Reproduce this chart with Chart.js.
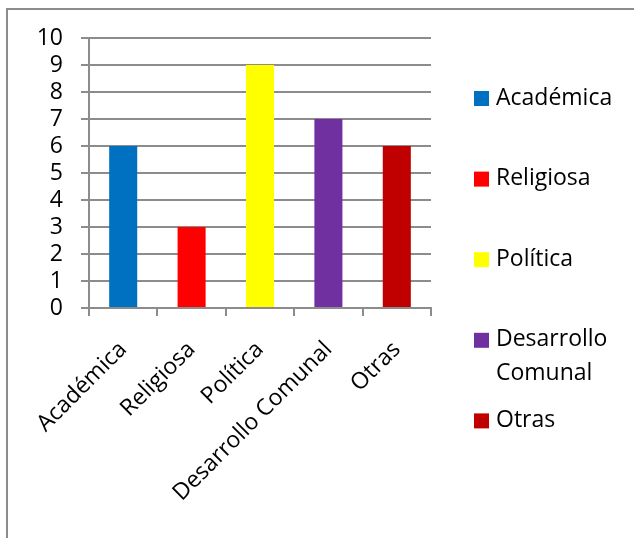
<!DOCTYPE html>
<html>
<head>
<meta charset="utf-8">
<script src="https://cdn.jsdelivr.net/npm/chart.js@4"></script>
<style>
  body { margin: 0; background: #fff; }
  canvas { display: block; }
</style>
</head>
<body>
<canvas id="grafico" width="634" height="538"></canvas>
<script>
const categorias = ['Académica', 'Religiosa', 'Política', 'Desarrollo Comunal', 'Otras'];
const valores = [6, 3, 9, 7, 6];
const colores = ['#0070C0', '#FF0000', '#FFFF00', '#7030A0', '#C00000'];
const leyenda = [['Académica'], ['Religiosa'], ['Política'], ['Desarrollo', 'Comunal'], ['Otras']];
const ticksY = [0, 1, 2, 3, 4, 5, 6, 7, 8, 9, 10];

const fuente = { family: "'Open Sans', sans-serif", size: 23 };
const gris = '#8c8c8c';

// borde del grafico (arriba e izquierda) y leyenda a la derecha
const extras = {
    id: 'extras',
    afterDraw(chart) {
        const c = chart.ctx;
        const area = chart.chartArea;
        c.save();
        c.strokeStyle = gris;
        c.lineWidth = 2;
        c.beginPath();
        c.moveTo(7, chart.height);
        c.lineTo(7, 9);
        c.lineTo(chart.width, 9);
        c.stroke();

        c.font = fuente.size + 'px ' + fuente.family;
        c.textBaseline = 'middle';
        c.textAlign = 'left';
        leyenda.forEach((lineas, i) => {
            const y = area.top + 60 + i * 80.6;
            c.fillStyle = colores[i];
            c.fillRect(area.right + 43, y - 7, 15, 15);
            c.fillStyle = '#000';
            lineas.forEach((t, j) => {
                c.fillText(t, area.right + 65, y + j * 34);
            });
        });
        c.restore();
    }
};

new Chart(document.querySelector('#grafico'), {
    type: 'bar',
    data: {
        labels: categorias,
        datasets: [{
            data: valores,
            backgroundColor: colores,
            categoryPercentage: 1,
            barPercentage: 0.41
        }]
    },
    options: {
        responsive: false,
        animation: false,
        layout: { padding: { top: 38, right: 203, left: 0, bottom: 0 } },
        plugins: { legend: { display: false }, tooltip: { enabled: false } },
        scales: {
            x: {
                grid: { drawOnChartArea: false, drawTicks: true, tickLength: 8, color: gris, lineWidth: 2 },
                border: { color: gris, width: 2 },
                ticks: { font: fuente, color: '#000', maxRotation: 45, minRotation: 45, padding: 20 },
                afterFit: (s) => { s.height = 230; }
            },
            y: {
                min: 0,
                max: 10,
                afterBuildTicks: (s) => { s.ticks = ticksY.map(v => ({ value: v })); },
                grid: { color: gris, lineWidth: 2, tickLength: 8 },
                border: { color: gris, width: 2 },
                ticks: { font: fuente, color: '#000', padding: 18, autoSkip: false },
                afterFit: (s) => { s.width = 89; }
            }
        }
    },
    plugins: [extras]
});
</script>
</body>
</html>
